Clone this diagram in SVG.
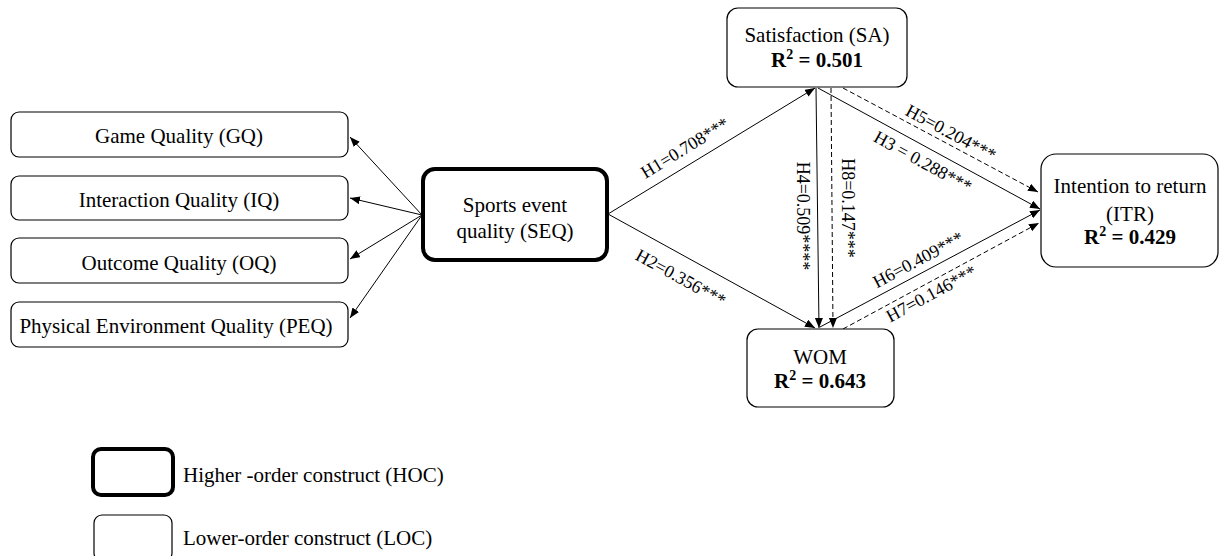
<svg xmlns="http://www.w3.org/2000/svg" width="1220" height="556" viewBox="0 0 1220 556">
<style>
  text { font-family: "Liberation Serif", "Times New Roman", serif; fill: #000; }
  .node { font-size: 21px; text-anchor: middle; }
  .r2 { font-size: 21px; font-weight: bold; text-anchor: middle; }
  .sup { font-size: 14px; }
  .lbl { font-size: 18px; text-anchor: middle; }
  .leg { font-size: 21px; }
  .box { fill: #fff; stroke: #000; stroke-width: 1.2; }
  .hoc { fill: #fff; stroke: #000; stroke-width: 4; }
  .ln { stroke: #000; stroke-width: 1; fill: none; marker-end: url(#ah); }
  .dash { stroke-dasharray: 5,3; }
</style>
<defs>
  <marker id="ah" markerUnits="userSpaceOnUse" markerWidth="11" markerHeight="9" refX="10" refY="4" orient="auto">
    <path d="M0,0 L10,4 L0,8 z" fill="#000"/>
  </marker>
</defs>
<rect width="1220" height="556" fill="#fff"/>

<g id="connectors">
  <line class="ln" x1="422" y1="215" x2="350" y2="137"/>
  <line class="ln" x1="422" y1="215" x2="350" y2="198"/>
  <line class="ln" x1="422" y1="215" x2="350" y2="259"/>
  <line class="ln" x1="422" y1="215" x2="350" y2="318"/>
  <line class="ln" x1="608" y1="214" x2="815" y2="88"/>
  <line class="ln" x1="608" y1="214" x2="815" y2="328"/>
  <line class="ln" x1="816" y1="88" x2="819" y2="328"/>
  <line class="ln dash" x1="831" y1="88" x2="833" y2="328"/>
  <line class="ln" x1="818" y1="88" x2="1040" y2="209"/>
  <line class="ln dash" x1="843" y1="88" x2="1038" y2="192"/>
  <line class="ln" x1="820" y1="327" x2="1040" y2="210"/>
  <line class="ln dash" x1="843" y1="329" x2="1039" y2="223"/>
  <text class="lbl" transform="translate(688,153) rotate(-31.5)">H1=0.708***</text>
  <text class="lbl" transform="translate(678,283) rotate(28.8)">H2=0.356***</text>
  <text class="lbl" transform="translate(920,167) rotate(28.8)">H3 = 0.288***</text>
  <text class="lbl" transform="translate(948,138) rotate(28.3)">H5=0.204***</text>
  <text class="lbl" transform="translate(797,216) rotate(90)">H4=0.509****</text>
  <text class="lbl" transform="translate(842,208) rotate(90)">H8=0.147***</text>
  <text class="lbl" transform="translate(921,265) rotate(-28)">H6=0.409***</text>
  <text class="lbl" transform="translate(934,299) rotate(-28.5)">H7=0.146***</text>
</g>

<g id="gq">
  <rect class="box" x="11" y="112" width="337" height="45" rx="8"/>
  <text class="node" x="179" y="143">Game Quality (GQ)</text>
</g>
<g id="iq">
  <rect class="box" x="11" y="176" width="337" height="44" rx="8"/>
  <text class="node" x="179" y="207">Interaction Quality (IQ)</text>
</g>
<g id="oq">
  <rect class="box" x="11" y="238" width="337" height="45" rx="8"/>
  <text class="node" x="179" y="270">Outcome Quality (OQ)</text>
</g>
<g id="peq">
  <rect class="box" x="11" y="302" width="337" height="45" rx="8"/>
  <text class="node" x="176" y="333">Physical Environment Quality (PEQ)</text>
</g>
<g id="seq">
  <rect class="hoc" x="423" y="169" width="184" height="91" rx="12"/>
  <text class="node" x="515" y="212">Sports event</text>
  <text class="node" x="515" y="238">quality (SEQ)</text>
</g>
<g id="sa">
  <rect class="box" x="727" y="8" width="180" height="79" rx="11"/>
  <text class="node" x="817" y="42">Satisfaction (SA)</text>
  <text class="r2" x="817" y="67">R<tspan class="sup" dy="-8">2</tspan><tspan dy="8"> = 0.501</tspan></text>
</g>
<g id="wom">
  <rect class="box" x="747" y="329" width="147" height="78" rx="11"/>
  <text class="node" x="820" y="364">WOM</text>
  <text class="r2" x="820" y="388">R<tspan class="sup" dy="-8">2</tspan><tspan dy="8"> = 0.643</tspan></text>
</g>
<g id="itr">
  <rect class="box" x="1041" y="154" width="177" height="113" rx="15"/>
  <text class="node" x="1130" y="193">Intention to return</text>
  <text class="node" x="1130" y="221">(ITR)</text>
  <text class="r2" x="1130" y="244">R<tspan class="sup" dy="-8">2</tspan><tspan dy="8"> = 0.429</tspan></text>
</g>

<g id="legend-hoc">
  <rect class="hoc" x="93" y="449" width="80" height="46" rx="8"/>
  <text class="leg" x="183" y="482">Higher -order construct (HOC)</text>
</g>
<g id="legend-loc">
  <rect class="box" x="94" y="515" width="78" height="46" rx="8"/>
  <text class="leg" x="183" y="545">Lower-order construct (LOC)</text>
</g>
</svg>
